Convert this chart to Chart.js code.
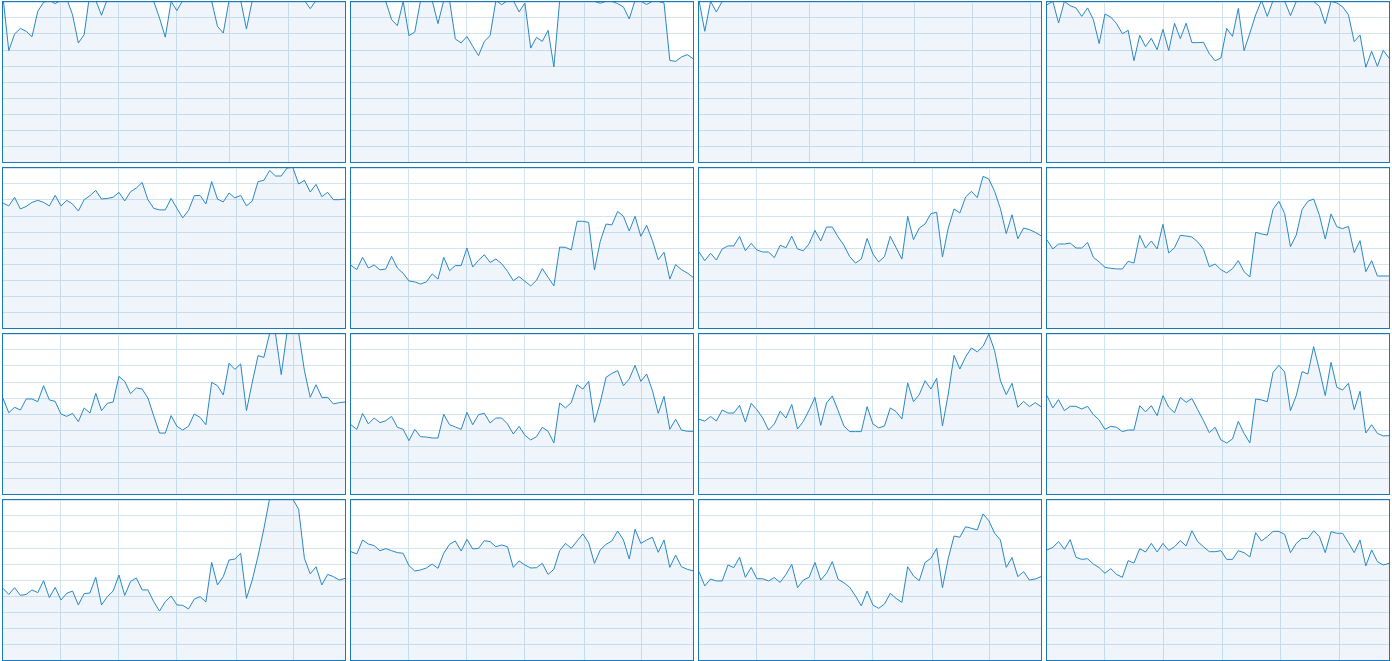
<!DOCTYPE html>
<html lang="en">
<head>
    <meta charset="UTF-8">
    <title>Sparkline grid</title>
    <script src="https://cdn.jsdelivr.net/npm/chart.js"></script>
    <style>
        html, body {
            margin: 0;
            padding: 0;
            background: #ffffff;
        }

        .grid {
            display: grid;
            grid-template-columns: repeat(4, 344px);
            grid-template-rows: repeat(4, 162px);
            gap: 4px;
            padding: 1px 0 0 2px;
        }

        .panel {
            position: relative;
            box-sizing: border-box;
            width: 344px;
            height: 162px;
            border: 1px solid #1a7ab9;
        }
    </style>
</head>
<body>

<div class="grid" id="grid"></div>

<script>
    // values per panel, 60 samples each (0..100 scale, >100 is off the top)
    const s01 = [103, 69.6, 80, 83.5, 81.7, 78.3, 94.2, 99.8, 101, 99, 101, 102, 92, 74.4, 79.6, 106, 101, 91.7, 102, 104, 108, 105, 110, 106, 103, 107, 100.4, 90, 78, 100.4, 94.6, 101, 104, 107, 103, 105, 100.5, 84.8, 80.6, 101, 104, 101, 83.1, 101, 105, 103, 108, 104, 106, 102, 105, 103, 101, 95.8, 101, 103, 105, 104, 106, 103];
    const s02 = [104, 107, 105, 108, 104, 103, 100.4, 89, 85.2, 100.4, 79, 81.2, 101, 104, 101, 86.5, 101, 101, 76.9, 74.4, 78.5, 72.3, 66.5, 75.4, 79, 101, 98.3, 101, 101, 93.8, 99.4, 71.2, 77.9, 75.4, 82.3, 59.4, 101, 106, 110, 108, 112, 105, 100.4, 99.2, 100.4, 100.4, 99, 96.9, 89.4, 101, 100.4, 98.5, 100.4, 100.4, 99.4, 63.5, 62.9, 65.6, 67.1, 64.6];
    const s03 = [101, 81.7, 100.4, 93.8, 100.4, 103, 106, 104, 108, 110, 107, 105, 109, 112, 108, 106, 110, 113, 109, 107, 111, 114, 110, 108, 106, 109, 112, 115, 111, 108, 105, 107, 110, 113, 110, 107, 104, 106, 109, 112, 115, 111, 108, 106, 110, 113, 116, 112, 109, 107, 110, 113, 111, 108, 106, 109, 112, 110, 108, 105];
    const s04 = [98.3, 100.4, 86.9, 100.4, 97.7, 96.3, 91, 96.3, 89, 74, 92.5, 90.6, 86.5, 80.2, 82.3, 63.3, 79.2, 72.1, 77.3, 70.2, 82.9, 69.6, 86.7, 77.1, 86.7, 74.6, 74.6, 74.8, 67.7, 63.3, 65, 83.5, 78.5, 96, 69.6, 80.6, 92, 101, 91, 101, 103, 100.6, 91.5, 100.4, 102, 103, 100.4, 97.3, 86.5, 100.4, 99.4, 97, 92, 75.2, 79.4, 59.2, 69.2, 59.8, 69.8, 65];
    const s05 = [78.1, 76.3, 81.7, 74.4, 76, 78.5, 79.8, 78.5, 76.3, 82.9, 76.3, 79.8, 77.5, 73.1, 80.2, 82.7, 86, 80.6, 81, 81.7, 84.8, 79.4, 85.2, 87.5, 91, 80.2, 74.8, 73.8, 73.8, 81, 74.8, 68.8, 73.5, 82.7, 82.9, 77.5, 91.5, 80.6, 78.8, 84.4, 81.3, 82.9, 76.3, 79.4, 91.5, 92.3, 98.5, 95, 95, 100, 100.4, 90, 92.3, 85, 89.8, 82.1, 84.8, 80.2, 80.2, 80.6];
    const s06 = [39.2, 36.5, 44.2, 37.5, 39.4, 36.3, 36.9, 44.8, 37.5, 34.2, 29.4, 28.8, 27.5, 28.8, 33.8, 30.6, 44.2, 35.8, 39, 39, 50, 38.1, 42.3, 45.8, 41, 43.1, 40.2, 35.4, 29.6, 32.1, 29.2, 26.3, 29.8, 37.1, 31.7, 26.3, 50.6, 50.4, 48.8, 66.7, 66.7, 66, 36.3, 54.2, 65, 64.4, 72.9, 69.8, 60.6, 69.8, 57.3, 64.2, 54.6, 42.7, 47.3, 30.6, 39.6, 36.5, 34.4, 31.7];
    const s07 = [47.5, 42.1, 46.7, 42.5, 49.4, 51.3, 51.3, 57.3, 48.3, 52.9, 48.8, 47.5, 47.5, 44, 51.7, 50.2, 57.3, 49.4, 48.3, 52.7, 61, 54.4, 63.1, 63.1, 56.9, 51.7, 44.6, 40.6, 43.1, 56, 46.3, 41.3, 44.6, 57.3, 50.2, 43.1, 69.8, 55.2, 62.5, 65, 71.5, 72.3, 44.4, 62.5, 74.4, 71.9, 81.9, 85.4, 81.5, 94.8, 93.1, 85.4, 74.6, 59, 70.8, 55.8, 62.5, 61.5, 59.8, 57.7];
    const s08 = [55, 49.4, 52.5, 52.5, 53.1, 50, 50, 53.5, 44.2, 41.3, 37.9, 37.3, 36.9, 36.9, 41.7, 40.6, 57.9, 50, 54.4, 49.4, 64.8, 46.9, 50.2, 57.9, 57.5, 56.9, 53.8, 49.2, 38.3, 40, 36.5, 34.4, 37.1, 42.1, 35.2, 31.9, 59.8, 58.8, 58.1, 74.2, 79.2, 71.5, 50.8, 58.1, 74, 79.2, 80.6, 70.4, 55.6, 71.3, 63.3, 62.1, 63.5, 47.1, 54.6, 35.2, 42.1, 32.5, 32.5, 32.5];
    const s09 = [59.8, 50.8, 54.2, 52.5, 59.4, 59.4, 57.7, 67.7, 58.8, 57.9, 50, 48.5, 50.4, 45.2, 53.8, 50.6, 62.9, 52.1, 56.7, 57.5, 73.5, 70.4, 62.7, 66.3, 65.6, 60, 48.8, 38.1, 38.1, 49, 42.3, 40, 42.3, 50, 47.9, 43.3, 69.8, 67.7, 61.9, 81.7, 77.9, 81.3, 52.1, 69.8, 86.5, 85.4, 100.4, 100.4, 74.6, 101, 104, 101, 77.1, 60.4, 68.3, 60.4, 60.4, 56.3, 57.1, 57.5];
    const s10 = [43.3, 40.4, 50.4, 43.8, 47.5, 44.6, 45.8, 48.5, 41.7, 40.4, 33.3, 40.4, 35.8, 35.6, 35, 35, 49.8, 43.3, 41.9, 40.4, 51, 43.3, 49.6, 50.4, 44.4, 47.5, 47.5, 43.8, 37.5, 42.3, 36.7, 33.8, 35.8, 41.7, 39.2, 31.9, 56.9, 53.8, 57.1, 68.3, 65.6, 70.4, 44.8, 57.3, 72.9, 75.4, 77.1, 67.7, 71.9, 80.4, 70.4, 75, 64.6, 50.4, 61, 40.4, 46.7, 40, 39.2, 39.2];
    const s11 = [46.7, 45.6, 48.5, 45.6, 52.5, 50.6, 50.6, 55.4, 45, 56.7, 52.7, 47.5, 40, 43.8, 51.7, 47.5, 56, 40.6, 45.4, 52.5, 60.4, 42.9, 56.9, 61.3, 52.1, 42.5, 39, 39, 39, 54.6, 43.8, 41.3, 42.5, 53.8, 51.5, 46.9, 69.4, 57.7, 62.1, 70.8, 65.6, 72.3, 42.5, 62.5, 86.7, 78.1, 85.8, 91.3, 88.8, 92.3, 100, 89.6, 70.8, 62.1, 69.2, 54.2, 57.9, 54.6, 57.1, 54.6];
    const s12 = [61.5, 53.8, 59, 52.1, 54.8, 54.8, 53.1, 54.8, 49.6, 46.3, 40.4, 42.3, 41.7, 39, 40, 40, 55.2, 51.3, 55.2, 49, 61.5, 54.2, 50.8, 60.4, 57.3, 59.6, 52.7, 45.8, 38.3, 41.7, 33.8, 31.9, 34.4, 45.4, 37.9, 31.9, 59.4, 58.8, 57.7, 76, 80.4, 76.3, 52.1, 61.5, 76.5, 75, 92.1, 77.5, 61.5, 82.3, 66.7, 65, 69.2, 52.7, 64.2, 38.1, 43.3, 37.9, 36.3, 36.5];
    const s13 = [44.8, 41, 45.2, 40.4, 41, 43.8, 42.1, 49.6, 39, 45.4, 37.5, 41.7, 43.1, 34.4, 41.5, 41.9, 51.7, 34.4, 39.6, 43.1, 53.1, 40.4, 49, 51.3, 43.8, 43.8, 36.5, 30.6, 36.5, 40, 34.4, 34.2, 31.9, 38.1, 39.6, 36.3, 61, 46.9, 52.1, 62.5, 63.1, 66.7, 38.5, 50, 65, 82, 101, 104, 106, 103, 100.5, 94.2, 63.5, 53.8, 58.3, 46.9, 53.5, 52.1, 50, 51];
    const s14 = [67.7, 66.3, 75, 72.5, 71.5, 68.3, 69.6, 68.3, 67.1, 66.7, 59, 55.6, 56.3, 57.5, 60, 57.3, 66.7, 72.3, 74.4, 68.1, 75.4, 69.4, 69.8, 74.6, 74, 70.8, 71.9, 70.8, 57.9, 61.9, 59.4, 57.5, 57.7, 60.4, 53.5, 56.7, 68.3, 72.9, 69.8, 74.4, 78.8, 73.3, 60.4, 68.8, 72.3, 74.4, 80.6, 75, 63.1, 81.7, 72.9, 75, 76.7, 67.3, 75, 57.9, 65.6, 58.3, 56.7, 55.8];
    const s15 = [55.2, 46.3, 50.6, 49.4, 49.4, 59.4, 57.7, 64.2, 51.7, 57.9, 50.8, 50.8, 49.4, 51.5, 48.5, 53.5, 59.8, 45.2, 50, 51.7, 61, 50, 54.2, 61.5, 50.4, 48.3, 45.4, 40, 33.8, 43.1, 34.4, 32.3, 35, 41.7, 38.5, 36, 58.3, 52.5, 49.6, 61, 63.5, 69.8, 45.2, 63.5, 77.5, 76.7, 83.3, 82.3, 81.3, 91.3, 87.1, 79.2, 75, 57.9, 64, 52.1, 55.2, 50, 50.6, 52.1];
    const s16 = [68.8, 70.4, 74, 69.2, 75.2, 64.2, 62.9, 63.3, 60, 57.7, 54.2, 57.1, 53.5, 51.7, 62.1, 60.6, 69.6, 67.5, 72.9, 67.5, 72.9, 68.5, 70.8, 74.6, 71.3, 80.8, 74, 70.8, 67.7, 67.7, 68.3, 62.9, 62.9, 68.3, 67.1, 64.4, 79.6, 74.4, 77.1, 80.4, 80.4, 78.5, 67.1, 72.9, 76, 76, 80.8, 77.1, 67.1, 80.2, 79.2, 79.2, 73.3, 67.1, 75, 58.8, 68.8, 61.5, 59.4, 60.4];

    // vertical grid line positions (sample index) per panel
    const gridA = [10, 20, 30, 39.1, 49.2];
    const gridB = [10, 20, 30, 40.2, 50.2];
    const gridC = [9, 19, 28.2, 37.1, 47.2, 57.2];
    const gridD = [10, 20.1, 30.2, 40.2, 50.4];

    const series = [s01, s02, s03, s04, s05, s06, s07, s08, s09, s10, s11, s12, s13, s14, s15, s16];
    const gridsX = [gridA, gridB, gridC, gridD, gridB, gridB, gridB, gridD, gridB, gridB, gridB, gridD, gridB, gridB, gridB, gridD];

    const gridColor = '#d3e4f1';
    const holder = document.getElementById('grid');

    series.forEach(function (vals, n) {
        const box = document.createElement('div');
        box.className = 'panel';
        const cv = document.createElement('canvas');
        box.appendChild(cv);
        holder.appendChild(box);

        const ticksX = gridsX[n];

        new Chart(cv, {
            type: 'line',
            data: {
                datasets: [{
                    data: vals.map(function (v, i) { return { x: i, y: v }; }),
                    borderColor: '#2a87c4',
                    backgroundColor: 'rgba(31, 119, 180, 0.07)',
                    borderWidth: 1,
                    pointRadius: 0,
                    tension: 0,
                    fill: 'origin'
                }]
            },
            options: {
                responsive: true,
                maintainAspectRatio: false,
                animation: false,
                layout: { padding: 0 },
                plugins: {
                    legend: { display: false },
                    tooltip: { enabled: false }
                },
                scales: {
                    x: {
                        type: 'linear',
                        min: 0,
                        max: vals.length - 1,
                        afterBuildTicks: function (axis) {
                            axis.ticks = ticksX.map(function (v) { return { value: v }; });
                        },
                        ticks: { display: false },
                        grid: { color: gridColor, drawTicks: false, lineWidth: 1 },
                        border: { display: false }
                    },
                    y: {
                        min: 0,
                        max: 100,
                        ticks: { display: false, stepSize: 10 },
                        grid: { color: gridColor, drawTicks: false, lineWidth: 1 },
                        border: { display: false }
                    }
                }
            }
        });
    });
</script>

</body>
</html>
